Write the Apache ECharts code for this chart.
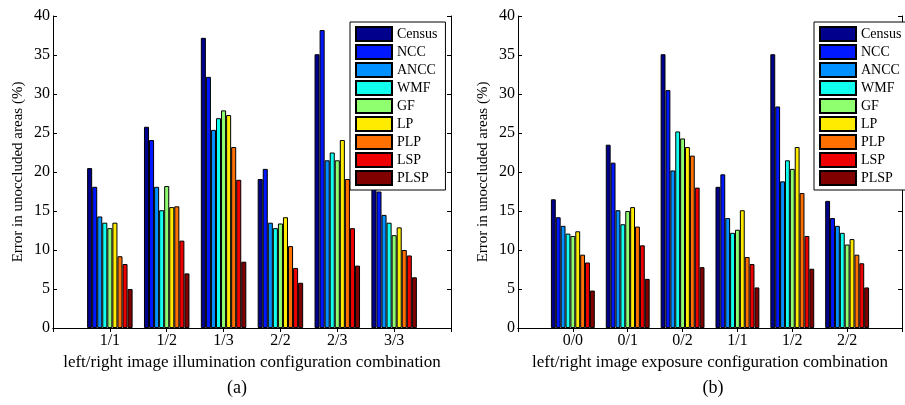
<!DOCTYPE html>
<html>
<head>
<meta charset="utf-8">
<script src="https://cdn.jsdelivr.net/npm/echarts@6/dist/echarts.min.js"></script>
<style>
  html, body { margin: 0; padding: 0; background: #fff; }
  #chart { width: 905px; height: 405px; }
</style>
</head>
<body>
<div id="chart"></div>
<script>
// methods and colours (jet-like)
const methods = ['Census', 'NCC', 'ANCC', 'WMF', 'GF', 'LP', 'PLP', 'LSP', 'PLSP']
const colors = ['#00008c', '#0018ff', '#0090ff', '#10ffef', '#8fff70', '#ffeb00', '#ff7000', '#ef0000', '#800000']

// (a) illumination
const illumCats = ['1/1', '1/2', '1/3', '2/2', '2/3', '3/3']
const illumCensus = [20.5, 25.8, 37.2, 19.1, 35.1, 18.5]
const illumNCC = [18.1, 24.1, 32.2, 20.4, 38.2, 17.5]
const illumANCC = [14.3, 18.1, 25.4, 13.5, 21.5, 14.5]
const illumWMF = [13.5, 15.1, 26.9, 12.8, 22.5, 13.5]
const illumGF = [12.8, 18.2, 27.9, 13.4, 21.5, 11.9]
const illumLP = [13.5, 15.5, 27.3, 14.2, 24.1, 12.9]
const illumPLP = [9.2, 15.6, 23.2, 10.5, 19.1, 10.0]
const illumLSP = [8.2, 11.2, 19.0, 7.7, 12.8, 9.3]
const illumPLSP = [5.0, 7.0, 8.5, 5.8, 8.0, 6.5]

// (b) exposure
const expoCats = ['0/0', '0/1', '0/2', '1/1', '1/2', '2/2']
const expoCensus = [16.5, 23.5, 35.1, 18.1, 35.1, 16.3]
const expoNCC = [14.2, 21.2, 30.5, 19.7, 28.4, 14.1]
const expoANCC = [13.1, 15.1, 20.2, 14.1, 18.8, 13.1]
const expoWMF = [12.1, 13.3, 25.2, 12.2, 21.5, 12.2]
const expoGF = [11.8, 15.0, 24.3, 12.6, 20.4, 10.7]
const expoLP = [12.4, 15.5, 23.2, 15.1, 23.2, 11.4]
const expoPLP = [9.4, 13.0, 22.1, 9.1, 17.3, 9.4]
const expoLSP = [8.4, 10.6, 18.0, 8.2, 11.8, 8.3]
const expoPLSP = [4.8, 6.3, 7.8, 5.2, 7.6, 5.2]

const illumData = [illumCensus, illumNCC, illumANCC, illumWMF, illumGF, illumLP, illumPLP, illumLSP, illumPLSP]
const expoData = [expoCensus, expoNCC, expoANCC, expoWMF, expoGF, expoLP, expoPLP, expoLSP, expoPLSP]

const FONT = '"Liberation Serif", "DejaVu Serif", serif'

// xlim is [0, 7] like matlab: pad an empty slot at each end
const pad = arr => [null].concat(arr, [null])

function xAxes (cats, grid, name) {
  const labels = [''].concat(cats, [''])
  return [
    {
      type: 'category',
      gridIndex: grid,
      data: labels,
      boundaryGap: false,
      name: name,
      nameLocation: 'middle',
      nameGap: 22,
      nameTextStyle: { fontFamily: FONT, fontSize: 17, color: '#000' },
      axisLine: { lineStyle: { color: '#000', width: 1 } },
      axisTick: { inside: true, length: 4, lineStyle: { color: '#000' } },
      axisLabel: { fontFamily: FONT, fontSize: 16, color: '#000', margin: 5, interval: 0 },
      splitLine: { show: false }
    },
    {
      type: 'category',
      gridIndex: grid,
      position: 'top',
      data: labels,
      boundaryGap: false,
      axisLine: { lineStyle: { color: '#000', width: 1 } },
      axisTick: { inside: true, length: 4, lineStyle: { color: '#000' } },
      axisLabel: { show: false },
      splitLine: { show: false }
    }
  ]
}

function yAxes (grid) {
  return [
    {
      type: 'value',
      gridIndex: grid,
      min: 0,
      max: 40,
      interval: 5,
      name: 'Error in unoccluded areas (%)',
      nameLocation: 'middle',
      nameRotate: 90,
      nameGap: 27,
      nameTextStyle: { fontFamily: FONT, fontSize: 15, color: '#000' },
      axisLine: { show: true, lineStyle: { color: '#000', width: 1 } },
      axisTick: { show: true, inside: true, length: 4, lineStyle: { color: '#000' } },
      axisLabel: { fontFamily: FONT, fontSize: 16, color: '#000', margin: 3 },
      splitLine: { show: false }
    },
    {
      type: 'value',
      gridIndex: grid,
      position: 'right',
      min: 0,
      max: 40,
      interval: 5,
      axisLine: { show: true, lineStyle: { color: '#000', width: 1 } },
      axisTick: { show: true, inside: true, length: 4, lineStyle: { color: '#000' } },
      axisLabel: { show: false },
      splitLine: { show: false }
    }
  ]
}

function legendAt (left) {
  return {
    orient: 'vertical',
    left: left,
    top: 22,
    data: methods,
    itemWidth: 36,
    itemHeight: 14,
    itemGap: 2,
    padding: [4, 8, 4, 5],
    backgroundColor: '#fff',
    borderColor: '#000',
    borderWidth: 1,
    borderRadius: 0,
    icon: 'rect',
    selectedMode: false,
    textStyle: { fontFamily: FONT, fontSize: 14, color: '#000', lineHeight: 14 }
  }
}

function barSeries (data, xi, yi) {
  return data.map((vals, i) => ({
    name: methods[i],
    type: 'bar',
    xAxisIndex: xi,
    yAxisIndex: yi,
    data: pad(vals),
    barGap: '0%',
    barCategoryGap: '20%',
    itemStyle: { color: colors[i], borderColor: '#000', borderWidth: 1 },
    emphasis: { disabled: true },
    animation: false
  }))
}

const myChart = echarts.init(document.getElementById('chart'), null, { renderer: 'canvas' })

const options = {
  animation: false,
  grid: [
    { left: 53, top: 16, width: 398, height: 312 },
    { left: 518, top: 16, width: 397, height: 312 }
  ],
  xAxis: xAxes(illumCats, 0, 'left/right image illumination configuration combination')
    .concat(xAxes(expoCats, 1, 'left/right image exposure configuration combination')),
  yAxis: yAxes(0).concat(yAxes(1)),
  legend: [legendAt(350), legendAt(814)],
  graphic: [
    { type: 'text', x: 237, y: 388, style: { text: '(a)', align: 'center', verticalAlign: 'middle', font: '18px ' + FONT, fill: '#000' } },
    { type: 'text', x: 713, y: 388, style: { text: '(b)', align: 'center', verticalAlign: 'middle', font: '18px ' + FONT, fill: '#000' } }
  ],
  series: barSeries(illumData, 0, 0).concat(barSeries(expoData, 2, 2))
}

myChart.setOption(options)
</script>
</body>
</html>
